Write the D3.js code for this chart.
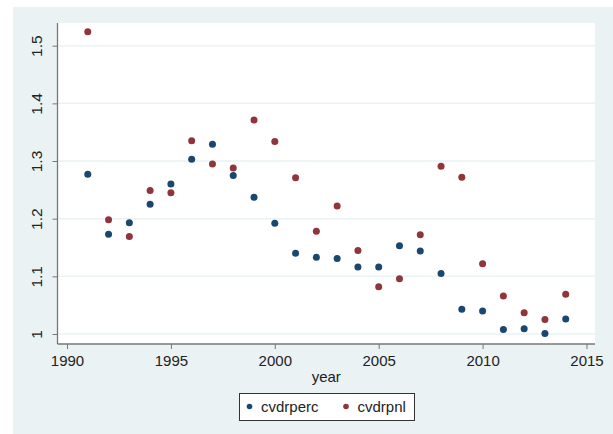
<!DOCTYPE html>
<html>
<head>
<meta charset="utf-8">
<script src="https://cdn.jsdelivr.net/npm/d3@7"></script>
<style>
  body { margin: 0; background: #ffffff; }
  svg text { font-family: "Liberation Sans", Arial, sans-serif; fill: #222; }
</style>
</head>
<body>
<svg width="613" height="434"></svg>
<script>
// годы и значения двух рядов
let years = [1991, 1992, 1993, 1994, 1995, 1996, 1997, 1998, 1999, 2000, 2001, 2002,
             2003, 2004, 2005, 2006, 2007, 2008, 2009, 2010, 2011, 2012, 2013, 2014];
let cvdrperc = [1.277, 1.173, 1.193, 1.225, 1.260, 1.303, 1.329, 1.275, 1.237, 1.192, 1.140, 1.133,
                1.131, 1.116, 1.116, 1.153, 1.144, 1.105, 1.043, 1.040, 1.008, 1.009, 1.001, 1.026];
let cvdrpnl = [1.524, 1.198, 1.169, 1.249, 1.245, 1.335, 1.295, 1.288, 1.371, 1.334, 1.271, 1.178,
               1.222, 1.145, 1.082, 1.096, 1.172, 1.291, 1.272, 1.122, 1.066, 1.037, 1.025, 1.069];
let xTicks = [1990, 1995, 2000, 2005, 2010, 2015];
let yTicks = [1, 1.1, 1.2, 1.3, 1.4, 1.5];
let seriesNames = ["cvdrperc", "cvdrpnl"];
let colors = ["#1a476f", "#90353b"];

let svg = d3.select("svg");

// фон графика
svg.append("rect").attr("x", 13).attr("y", 7).attr("width", 600).attr("height", 427)
    .attr("fill", "#eaf2f3");

let plotLeft = 57.5, plotRight = 595, plotTop = 23, plotBottom = 344;

svg.append("rect").attr("x", plotLeft).attr("y", plotTop)
    .attr("width", plotRight - plotLeft).attr("height", plotBottom - plotTop).attr("fill", "#ffffff");

// шкалы
let scaleX = d3.scaleLinear().domain([1990, 2015]).range([67, 586.5]);
let scaleY = d3.scaleLinear().domain([1, 1.5]).range([334, 45.7]);

// сетка
svg.append("g").selectAll("line")
    .data(yTicks)
    .enter()
    .append("line")
    .attr("x1", plotLeft).attr("x2", plotRight)
    .attr("y1", d => scaleY(d)).attr("y2", d => scaleY(d))
    .attr("stroke", "#eaf2f3").attr("stroke-width", 1.5);

// ось OY
let gy = svg.append("g")
    .attr("transform", `translate(${plotLeft}, 0)`)
    .call(d3.axisLeft(scaleY).tickValues(yTicks).tickSize(5).tickFormat(d3.format("")));
gy.select(".domain").attr("d", `M0,${plotTop}V${plotBottom}`)
    .attr("stroke", "#777").attr("stroke-width", 1.3);
gy.selectAll("line").attr("stroke", "#777");
gy.selectAll("text")
    .attr("x", 0).attr("y", -15.5).attr("dy", 0)
    .attr("transform", "rotate(-90)")
    .style("text-anchor", "middle")
    .style("font-size", "15.5px")
    .style("font-family", "'Liberation Sans', Arial, sans-serif")
    .attr("fill", "#222");

// ось OX
let gx = svg.append("g")
    .attr("transform", `translate(0, ${plotBottom})`)
    .call(d3.axisBottom(scaleX).tickValues(xTicks).tickSize(5).tickFormat(d3.format("d")));
gx.select(".domain").attr("d", `M${plotLeft},0H${plotRight}`).attr("stroke", "#777").attr("stroke-width", 1.3);
gx.selectAll("line").attr("stroke", "#777");
gx.selectAll("text")
    .attr("y", 11)
    .style("font-size", "15px")
    .style("font-family", "'Liberation Sans', Arial, sans-serif")
    .attr("fill", "#222");

svg.append("text")
    .attr("x", (plotLeft + plotRight) / 2).attr("y", 382)
    .attr("text-anchor", "middle")
    .style("font-size", "15px")
    .text("year");

// точки
let series = [cvdrperc, cvdrpnl];
series.forEach((values, i) => {
    svg.append("g").selectAll("circle")
        .data(years)
        .enter()
        .append("circle")
        .attr("cx", (d) => scaleX(d))
        .attr("cy", (d, j) => scaleY(values[j]))
        .attr("r", 3.5)
        .attr("fill", colors[i]);
});

// легенда
let legend = svg.append("g");
legend.append("rect").attr("x", 239.5).attr("y", 393.5).attr("width", 175).attr("height", 27)
    .attr("fill", "#ffffff").attr("stroke", "#333").attr("stroke-width", 1);
let legendX = [249.5, 346];
seriesNames.forEach((name, i) => {
    legend.append("circle").attr("cx", legendX[i]).attr("cy", 406.5).attr("r", 2.8).attr("fill", colors[i]);
    legend.append("text").attr("x", legendX[i] + 11.5).attr("y", 412)
        .style("font-size", "15px").text(name);
});
</script>
</body>
</html>
